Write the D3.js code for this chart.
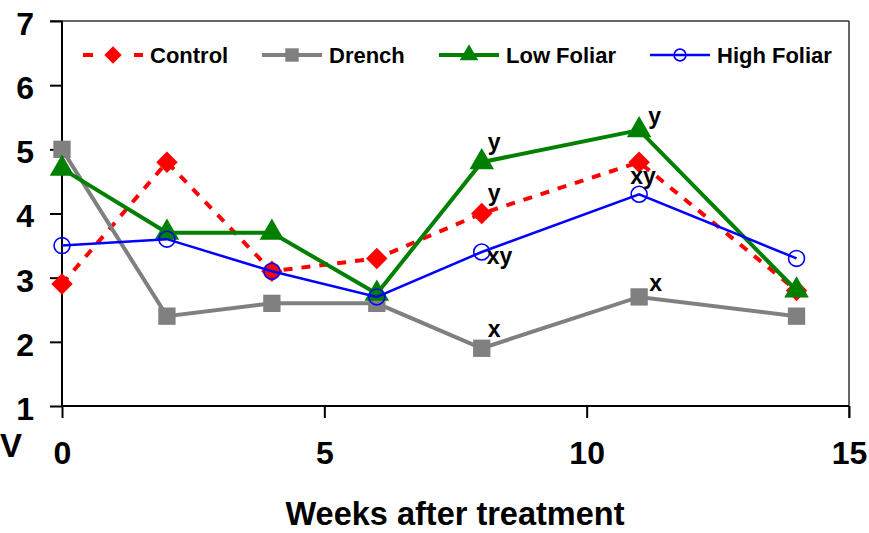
<!DOCTYPE html>
<html><head><meta charset="utf-8">
<script src="https://cdn.jsdelivr.net/npm/d3@7"></script>
<style>body{margin:0;background:#fff}svg{display:block}text{font-family:"Liberation Sans",Arial,sans-serif;font-weight:bold;fill:#000}</style>
</head><body><svg id="c" width="869" height="533"></svg>
<script>
const weeks = [0, 2, 4, 6, 8, 11, 14];
const control = [2.9, 4.8, 3.1, 3.3, 4.0, 4.8, 2.8];
const drench = [5.0, 2.4, 2.6, 2.6, 1.9, 2.7, 2.4];
const lowFoliar = [4.7, 3.7, 3.7, 2.75, 4.8, 5.3, 2.8];
const highFoliar = [3.5, 3.6, 3.1, 2.7, 3.4, 4.3, 3.3];
const seriesNames = ["Control", "Drench", "Low Foliar", "High Foliar"];
const xTicks = [0, 5, 10, 15];
const yTicks = [1, 2, 3, 4, 5, 6, 7];
const xTitle = "Weeks after treatment";
// annotations: [series index, week, text]
const annotations = [[2, 8, "y"], [0, 8, "y"], [3, 8, "xy"], [1, 8, "x"], [2, 11, "y"], [0, 11, "xy"], [1, 11, "x"]];

// styles/layout (kept separate from data)
const annOffsets = [[6, -12], [6, -13], [5, 12], [6, -11], [9, -6], [-9, 22], [10, -6]];
const styles = [
  {color: "#ff0000", width: 4, dash: "9,9", marker: "diamond", size: 230, lsize: 150},
  {color: "#808080", width: 4, dash: null, marker: "square", size: 300, lsize: 180},
  {color: "#008000", width: 4, dash: null, marker: "triangle", size: 260, lsize: 150},
  {color: "#0000ff", width: 2.5, dash: null, marker: "circle", size: 200, lsize: 110}
];
const allValues = [control, drench, lowFoliar, highFoliar];

const svg = d3.select("#c");
const x = d3.scaleLinear().domain([0, 15]).range([62, 849]);
const y = d3.scaleLinear().domain([1, 7]).range([406, 21]);

function sym(st, size) {
  const t = (st.marker === "diamond" || st.marker === "square") ? d3.symbolSquare : st.marker === "triangle" ? d3.symbolTriangle : d3.symbolCircle;
  return d3.symbol().type(t).size(size)();
}
function drawMarker(g, st, cx, cy, size) {
  const p = g.append("path").attr("d", sym(st, size));
  let tr = `translate(${cx},${cy})`;
  if (st.marker === "diamond") tr += " rotate(45)";
  p.attr("transform", tr);
  if (st.marker === "circle") p.attr("fill", "none").attr("stroke", st.color).attr("stroke-width", 1.6);
  else p.attr("fill", st.color);
}

// frame top & right
svg.append("line").attr("x1", 50).attr("x2", 849).attr("y1", y(7)).attr("y2", y(7)).attr("stroke", "#333").attr("stroke-width", 1.5);
svg.append("line").attr("x1", 849).attr("x2", 849).attr("y1", y(7)).attr("y2", 418).attr("stroke", "#333").attr("stroke-width", 1.5);

// axes
const yAxis = svg.append("g").attr("transform", `translate(${x(0)},0)`)
  .call(d3.axisLeft(y).tickValues(yTicks).tickSize(12).tickPadding(16).tickFormat(d3.format("d")));
const xAxis = svg.append("g").attr("transform", `translate(0,${y(1)})`)
  .call(d3.axisBottom(x).tickValues(xTicks).tickSize(12).tickPadding(16).tickFormat(d3.format("d")));
[yAxis, xAxis].forEach(a => {
  a.select(".domain").attr("stroke", "#000").attr("stroke-width", 2);
  a.selectAll(".tick line").attr("stroke", "#000").attr("stroke-width", 2);
  a.selectAll(".tick text").style("font-size", "32px").style("font-family", "Liberation Sans, Arial, sans-serif").style("font-weight", "bold").attr("fill", "#000");
});
yAxis.select(".domain").attr("d", `M0,${y(7)}V${y(1)}`);
xAxis.select(".domain").attr("d", `M${x(0)},0H${x(15)}`);
yAxis.selectAll(".tick text").attr("dy", "0.42em");
xAxis.selectAll(".tick text").attr("dy", "0.95em");

// axis title
svg.append("text").attr("x", 455).attr("y", 525).attr("text-anchor", "middle").style("font-size", "32.5px").text(xTitle);
svg.append("text").attr("x", 0).attr("y", 457).style("font-size", "33px").text("V");

// series
const line = d3.line().x(d => x(d[0])).y(d => y(d[1]));
allValues.forEach((vals, i) => {
  const st = styles[i];
  const pts = weeks.map((w, j) => [w, vals[j]]);
  const g = svg.append("g");
  const p = g.append("path").datum(pts).attr("d", line).attr("fill", "none")
    .attr("stroke", st.color).attr("stroke-width", st.width).attr("stroke-linejoin", "miter");
  if (st.dash) p.attr("stroke-dasharray", st.dash);
  pts.forEach(d => drawMarker(g, st, x(d[0]), y(d[1]), st.size));
});

// annotations
annotations.forEach((a, k) => {
  const vals = allValues[a[0]];
  const j = weeks.indexOf(a[1]);
  svg.append("text").attr("x", x(a[1]) + annOffsets[k][0]).attr("y", y(vals[j]) + annOffsets[k][1])
    .style("font-size", "23px").text(a[2]);
});

// legend
const legX = [83, 262, 439, 650];
const legY = 55;
seriesNames.forEach((name, i) => {
  const st = styles[i];
  const g = svg.append("g");
  if (st.dash) {
    g.append("line").attr("x1", legX[i]).attr("x2", legX[i] + 10).attr("y1", legY).attr("y2", legY).attr("stroke", st.color).attr("stroke-width", st.width);
    g.append("line").attr("x1", legX[i] + 51).attr("x2", legX[i] + 60).attr("y1", legY).attr("y2", legY).attr("stroke", st.color).attr("stroke-width", st.width);
  } else {
    g.append("line").attr("x1", legX[i]).attr("x2", legX[i] + 60).attr("y1", legY).attr("y2", legY).attr("stroke", st.color).attr("stroke-width", st.width);
  }
  drawMarker(g, st, legX[i] + 30, legY, st.lsize);
  g.append("text").attr("x", legX[i] + 67).attr("y", legY + 8).style("font-size", "22px").text(name);
});
</script></body></html>
